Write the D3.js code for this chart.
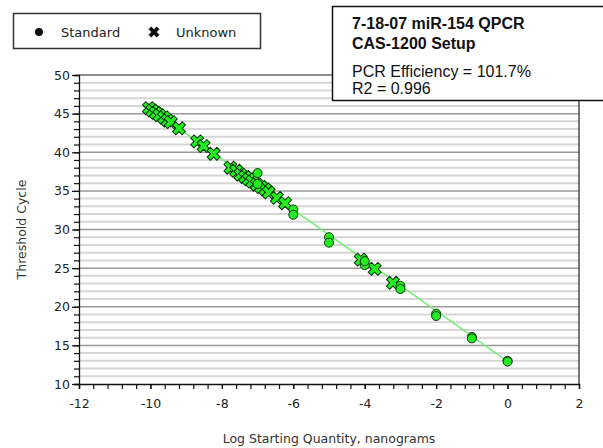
<!DOCTYPE html>
<html><head><meta charset="utf-8">
<script src="https://cdn.jsdelivr.net/npm/d3@7"></script>
<style>
html,body{margin:0;padding:0;background:#fff;}
svg{display:block;}
text{font-family:"DejaVu Sans",sans-serif;}
</style></head>
<body><svg id="c" width="603" height="448"></svg>
<script>
// ---- data ----
const standardX = [-7, -7, -6, -6, -5, -5, -4, -4, -3, -3, -2, -2, -1, -1, 0, 0];
const standardY = [37.3, 35.9, 32.6, 31.9, 29.0, 28.3, 25.4, 25.9, 22.7, 22.3, 19.1, 18.8, 16.1, 15.9, 13.0, 12.9];
const unknownX = [-10.04, -9.95, -9.85, -9.75, -9.62, -9.52, -9.43, -9.2, -8.69, -8.51, -8.23,
                  -7.76, -7.6, -7.48, -7.35, -7.25, -7.15, -7.02, -6.9, -6.79, -6.69, -6.46, -6.23,
                  -4.11, -3.72, -3.21];
const unknownY = [45.7, 45.4, 45.1, 44.8, 44.5, 44.1, 43.9, 43.1, 41.4, 40.8, 39.8,
                  38.0, 37.6, 37.1, 36.8, 36.5, 36.2, 35.8, 35.5, 35.2, 34.8, 34.1, 33.4,
                  26.1, 24.9, 23.1];
const fitX = [-10.13, 0.1];
const fitY = [46.1, 12.6];
const xTickLabels = ["-12", "-10", "-8", "-6", "-4", "-2", "0", "2"];
const yTickLabels = ["10", "15", "20", "25", "30", "35", "40", "45", "50"];
const legendLabels = ["Standard", "Unknown"];
const titleLines = ["7-18-07 miR-154 QPCR", "CAS-1200 Setup"];
const statLines = ["PCR Efficiency = 101.7%", "R2 = 0.996"];
const xTitle = "Log Starting Quantity, nanograms";
const yTitle = "Threshold Cycle";

// ---- layout ----
const svg = d3.select("#c");
const L = 79, R = 579, T = 75, B = 384;
const x = d3.scaleLinear().domain([-12, 2]).range([L, R]);
const y = d3.scaleLinear().domain([10, 50]).range([B, T]);
const xMajor = xTickLabels.map(Number);
const yMajor = yTickLabels.map(Number);

// grid
const minorY = d3.range(10, 50.001, 1);
svg.append("g").selectAll("line").data(minorY.filter(v => v % 5 !== 0)).join("line")
  .attr("x1", L).attr("x2", R).attr("y1", d => y(d)).attr("y2", d => y(d))
  .attr("stroke", "#d6d6d6").attr("stroke-width", 2);
svg.append("g").selectAll("line").data(yMajor.filter(v => v !== 10 && v !== 50)).join("line")
  .attr("x1", L).attr("x2", R).attr("y1", d => y(d)).attr("y2", d => y(d))
  .attr("stroke", "#999").attr("stroke-width", 1.5);

// frame
svg.append("line").attr("x1", L).attr("x2", R).attr("y1", T).attr("y2", T).attr("stroke", "#222").attr("stroke-width", 1.2);
svg.append("line").attr("x1", R).attr("x2", R).attr("y1", T).attr("y2", B).attr("stroke", "#222").attr("stroke-width", 1.2);

// axes
const xAxis = svg.append("g").attr("transform", `translate(0,${B})`)
  .call(d3.axisBottom(x).tickValues(d3.range(-12, 2.0001, 0.4)).tickSize(5).tickFormat(""));
const xLab = svg.append("g").attr("transform", `translate(0,${B})`)
  .call(d3.axisBottom(x).tickValues(xMajor).tickSize(5).tickPadding(10).tickFormat((d, i) => xTickLabels[i]));
const yAxis = svg.append("g").attr("transform", `translate(${L},0)`)
  .call(d3.axisLeft(y).tickValues(minorY).tickSize(5).tickFormat(""));
const yLab = svg.append("g").attr("transform", `translate(${L},0)`)
  .call(d3.axisLeft(y).tickValues(yMajor).tickSize(7).tickPadding(2).tickFormat((d, i) => yTickLabels[i]));
[xAxis, xLab, yAxis, yLab].forEach(g => {
  g.select(".domain").attr("stroke", "#111").attr("stroke-width", 1.3);
  g.selectAll(".tick line").attr("stroke", "#111").attr("stroke-width", 1.2);
  g.selectAll(".tick text").attr("fill", "#222").style("font-size", "12.5px").style("font-family", "DejaVu Sans");
});
xLab.select(".domain").remove();
yLab.select(".domain").remove();

// axis titles
svg.append("text").attr("x", (L + R) / 2).attr("y", 443).attr("text-anchor", "middle")
  .attr("fill", "#333").style("font-size", "12.5px").text(xTitle);
svg.append("text").attr("transform", `translate(26,${(T + B) / 2}) rotate(-90)`).attr("text-anchor", "middle")
  .attr("fill", "#333").style("font-size", "12.5px").text(yTitle);

// fit line
svg.append("line").attr("x1", x(fitX[0])).attr("y1", y(fitY[0])).attr("x2", x(fitX[1])).attr("y2", y(fitY[1]))
  .attr("stroke", "#77ee77").attr("stroke-width", 1.6);

// markers
const crossPath = d3.symbol(d3.symbolCross, 105)();
const unk = unknownX.map((v, i) => [v, unknownY[i]]);
svg.append("g").selectAll("path").data(unk).join("path")
  .attr("d", crossPath)
  .attr("transform", d => `translate(${x(d[0])},${y(d[1])}) rotate(45)`)
  .attr("fill", "#22ee22").attr("stroke", "#0a330a").attr("stroke-width", 1);
const std = standardX.map((v, i) => [v, standardY[i]]);
svg.append("g").selectAll("circle").data(std).join("circle")
  .attr("cx", d => x(d[0])).attr("cy", d => y(d[1])).attr("r", 4.5)
  .attr("fill", "#22ee22").attr("stroke", "#0a330a").attr("stroke-width", 1);

// legend
svg.append("rect").attr("x", 13.5).attr("y", 13.5).attr("width", 247).attr("height", 35)
  .attr("fill", "#fff").attr("stroke", "#333").attr("stroke-width", 1.5);
svg.append("circle").attr("cx", 39).attr("cy", 32).attr("r", 4).attr("fill", "#111");
svg.append("path").attr("d", d3.symbol(d3.symbolCross, 75)()).attr("transform", "translate(154,32) rotate(45)").attr("fill", "#111");
svg.append("text").attr("x", 61).attr("y", 36.5).attr("fill", "#222").style("font-size", "13px").text(legendLabels[0]);
svg.append("text").attr("x", 176).attr("y", 36.5).attr("fill", "#222").style("font-size", "13px").text(legendLabels[1]);

// annotation box
svg.append("rect").attr("x", 332.5).attr("y", 6.5).attr("width", 280).attr("height", 94)
  .attr("fill", "#fff").attr("stroke", "#111").attr("stroke-width", 1.5);
titleLines.forEach((t, i) => svg.append("text").attr("x", 352).attr("y", 29 + i * 20)
  .style("font-family", "Liberation Sans, Arial, sans-serif").style("font-weight", "bold").style("font-size", "16px").attr("fill", "#111").text(t));
statLines.forEach((t, i) => svg.append("text").attr("x", 352).attr("y", 77 + i * 17)
  .style("font-family", "Liberation Sans, Arial, sans-serif").style("font-size", "16px").attr("fill", "#111").text(t));
</script></body></html>
